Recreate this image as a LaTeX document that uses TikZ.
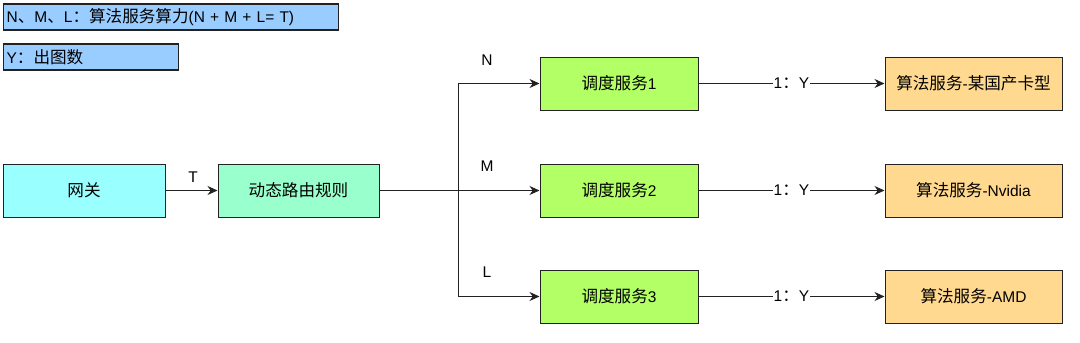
\documentclass[tikz,border=0pt]{standalone}
\usepackage{fontspec}
\setmainfont{Liberation Sans}
\newfontfamily\cjk[Scale=1.07]{Noto Sans CJK SC}
\usetikzlibrary{arrows.meta}
\definecolor{legendfill}{HTML}{99CCFF}
\definecolor{gwfill}{HTML}{99FFFF}
\definecolor{rulefill}{HTML}{99FFCC}
\definecolor{schedfill}{HTML}{B3FF66}
\definecolor{algfill}{HTML}{FFD98F}
\definecolor{edgecol}{HTML}{222222}
\tikzset{
  box/.style={draw=edgecol, line width=1pt, minimum height=53pt, inner sep=0pt, font=\fontsize{15.5}{18}\selectfont},
  legendbox/.style={draw=edgecol, line width=1.3pt, fill=legendfill, minimum height=26pt, anchor=west, inner sep=0pt, text width=#1, align=left, font=\fontsize{15.5}{18}\selectfont},
  conn/.style={draw=edgecol, line width=1pt, -{Stealth[length=10pt,width=9pt]}},
  lbl/.style={font=\fontsize{15.5}{18}\selectfont, inner sep=1pt},
}
\begin{document}
\begin{tikzpicture}[x=1pt,y=-1pt]
\useasboundingbox (0,0) rectangle (1080,343);
% legends
\node[legendbox=333pt, minimum width=335pt] (lg1) at (3,17) {\hspace{2pt}N{\cjk 、}M{\cjk 、}L{\cjk ：算法服务算力}(N + M + L= T)};
\node[legendbox=173pt, minimum width=175pt] (lg2) at (3,57) {\hspace{2pt}Y{\cjk ：出图数}};
% main nodes
\node[box, fill=gwfill, minimum width=162pt] (gw) at (84,190.5) {\cjk 网关};
\node[box, fill=rulefill, minimum width=161pt] (rule) at (298.5,190.5) {\cjk 动态路由规则};
\node[box, fill=schedfill, minimum width=158pt] (s1) at (619,83.5) {{\cjk 调度服务}1};
\node[box, fill=schedfill, minimum width=158pt] (s2) at (619,190.5) {{\cjk 调度服务}2};
\node[box, fill=schedfill, minimum width=158pt] (s3) at (619,296.5) {{\cjk 调度服务}3};
\node[box, fill=algfill, minimum width=177pt] (a1) at (973.5,83.5) {{\cjk 算法服务}-{\cjk 某国产卡型}};
\node[box, fill=algfill, minimum width=177pt] (a2) at (973.5,190.5) {{\cjk 算法服务}-Nvidia};
\node[box, fill=algfill, minimum width=177pt] (a3) at (973.5,296.5) {{\cjk 算法服务}-AMD};
\coordinate (split) at (458,190.5);
% connectors
\draw[conn] (gw) -- (rule);
\node[lbl] (lT) at (193,177) {T};
\draw[draw=edgecol, line width=1pt] (rule.east) -- (split);
\draw[conn] (split) |- (s1.west);
\draw[conn] (split) -- (s2.west);
\draw[conn] (split) |- (s3.west);
\node[lbl] (lN) at (487,60) {N};
\node[lbl] (lM) at (487,166) {M};
\node[lbl] (lL) at (487,272) {L};
\draw[conn] (s1) -- node[lbl, fill=white] {1{\cjk ：}Y} (a1);
\draw[conn] (s2) -- node[lbl, fill=white] {1{\cjk ：}Y} (a2);
\draw[conn] (s3) -- node[lbl, fill=white] {1{\cjk ：}Y} (a3);
\end{tikzpicture}
\end{document}
